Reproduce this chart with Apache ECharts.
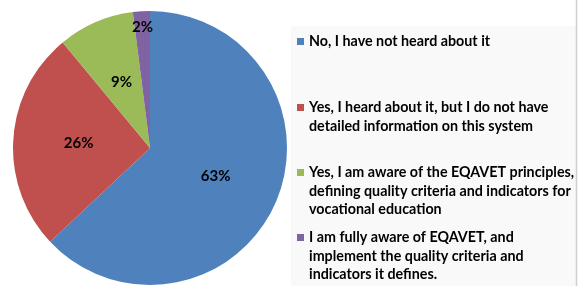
<!DOCTYPE html>
<html>
<head>
<meta charset="utf-8">
<script src="https://cdn.jsdelivr.net/npm/echarts@6/dist/echarts.min.js"></script>
<style>
html,body{margin:0;padding:0;background:#fff;}
#chart{width:579px;height:286px;}
</style>
</head>
<body>
<div id="chart"></div>
<script>
// answers (legend text keeps the original line breaks)
var answers = [
	"No, I have not heard about it",
	"Yes, I heard about it, but I do not have\ndetailed information on this system",
	"Yes, I am aware of the EQAVET principles,\ndefining quality criteria and indicators for\nvocational education",
	"I am fully aware of EQAVET, and\nimplement the quality criteria and\nindicators it defines."
];
var shares = [63, 26, 9, 2];
var colors = ["#4F81BD", "#C0504D", "#9BBB59", "#8064A2"];

var lineH = 18.5;
var firstLineY = [41.5, 107.5, 172.5, 237.5];

function lineCount(name){
	return name.split("\n").length;
}

// one legend per answer, so each sits in its own slot like the excel one
function legendFor(i){
	var n = lineCount(answers[i]);
	return {
		orient: 'vertical',
		left: 297,
		top: firstLineY[i] - (n - 1) * lineH - lineH / 2,
		padding: 0,
		itemWidth: 7,
		itemHeight: 7,
		itemGap: 0,
		selectedMode: false,
		icon: 'rect',
		data: [answers[i]],
		// blank lines on top keep the square beside the first line
		formatter: function(name){
			var pad = "";
			for (var k = 1; k < lineCount(name); k++) pad += "\n";
			return pad + name;
		},
		textStyle: {
			fontFamily: 'Lato',
			fontWeight: 'bold',
			fontSize: 14.3,
			color: '#000',
			lineHeight: lineH
		}
	};
}

var pie_data = [];
for (var i = 0; i < answers.length; i++) {
	var item = {value: shares[i], name: answers[i], itemStyle: {color: colors[i]}};
	if (i == 3) {
		// small slice: label sits near the rim
		item.label = {offset: [-3, -49]};
	}
	pie_data.push(item);
}

var legends = [];
for (var j = 0; j < answers.length; j++) legends.push(legendFor(j));

var chart = echarts.init(document.getElementById('chart'));
var option = {
	animation: false,
	graphic: [
		{type: 'rect', z: -10, shape: {x: 291, y: 26, width: 285, height: 260}, style: {fill: '#f9f9f9'}},
		{type: 'line', z: -5, shape: {x1: 576.5, y1: 0, x2: 576.5, y2: 286}, style: {stroke: '#cfcfcf', lineWidth: 1.5}}
	],
	legend: legends,
	series: [{
		type: 'pie',
		center: [150, 148],
		radius: 137,
		startAngle: 90,
		clockwise: true,
		silent: true,
		itemStyle: {borderWidth: 0},
		label: {
			show: true,
			position: 'inside',
			formatter: '{c}%',
			fontFamily: 'Lato',
			fontWeight: 'bold',
			fontSize: 15,
			color: '#000'
		},
		labelLine: {show: false},
		emphasis: {disabled: true},
		data: pie_data
	}]
};
chart.setOption(option);
</script>
</body>
</html>
